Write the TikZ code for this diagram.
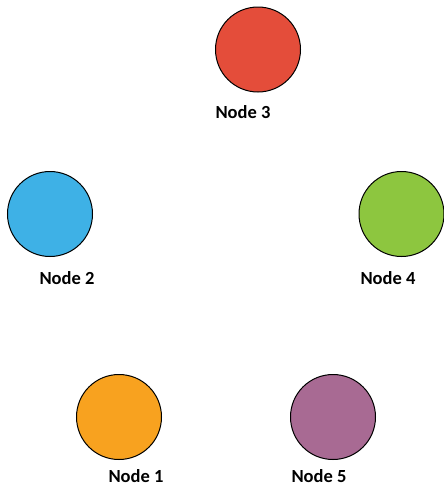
\documentclass[tikz,border=0pt]{standalone}
\usepackage{fontspec}
\setmainfont{Carlito}
\begin{document}
\begin{tikzpicture}[x=1pt,y=-1pt,
  ball/.style={circle,draw=black,line width=1pt,minimum size=85pt,inner sep=0pt},
  lbl/.style={anchor=base,font=\fontsize{18.5}{20}\selectfont\bfseries,inner sep=0pt,text depth=0pt}]
\useasboundingbox (0,0) rectangle (444,488);
\definecolor{cRed}{HTML}{E44D3A}
\definecolor{cBlue}{HTML}{3EB1E6}
\definecolor{cGreen}{HTML}{8DC63F}
\definecolor{cOrange}{HTML}{F8A21F}
\definecolor{cPurple}{HTML}{A86A93}
\node[ball,fill=cRed] (n3) at (258,49.5) {};
\node[ball,fill=cBlue] (n2) at (50,214) {};
\node[ball,fill=cGreen] (n4) at (401.5,214) {};
\node[ball,fill=cOrange] (n1) at (119,417) {};
\node[ball,fill=cPurple] (n5) at (333,417) {};
\node[lbl] (t3) at (243,118) {Node 3};
\node[lbl] (t2) at (67,284) {Node 2};
\node[lbl] (t4) at (388,284) {Node 4};
\node[lbl] (t1) at (136,482) {Node 1};
\node[lbl] (t5) at (319,482) {Node 5};
\end{tikzpicture}
\end{document}
